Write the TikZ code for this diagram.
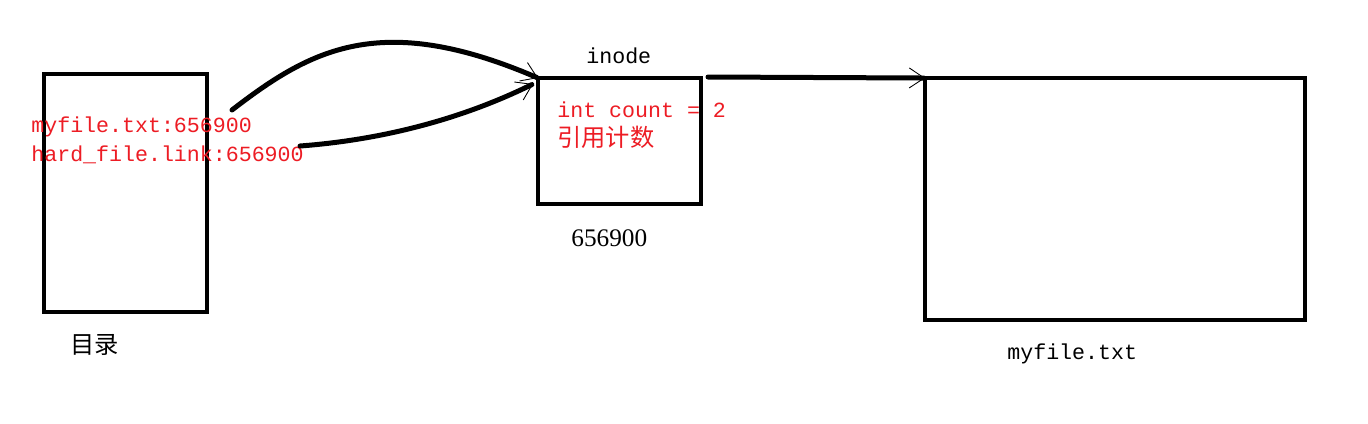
\documentclass[tikz,border=0pt]{standalone}
\usepackage{fontspec}
\setmonofont{Liberation Mono}
\newfontfamily\cjk{Noto Sans CJK SC}
\newfontfamily\serifnum{Liberation Serif}
\usetikzlibrary{arrows.meta}
\definecolor{paintred}{RGB}{237,28,36}
\begin{document}
\begin{tikzpicture}[x=0.02cm,y=-0.02cm,
  box/.style={draw=black,line width=0.09cm,minimum width=#1,inner sep=0pt,outer sep=0pt},
  wire/.style={line width=0.1cm,line cap=round,-{Straight Barb[line width=0.5pt,length=0.3cm,width=0.4cm]}},
  redtxt/.style={text=paintred,font=\fontsize{12.3}{14}\selectfont\ttfamily,anchor=west,inner sep=0pt},
  blacktxt/.style={text=black,font=\fontsize{12.3}{14}\selectfont\ttfamily,anchor=west,inner sep=0pt},
  cjktxt/.style={font=\fontsize{13.8}{16}\selectfont\cjk,anchor=west,inner sep=0pt}]
\useasboundingbox[fill=white] (0,0) rectangle (1368,423);
% boxes
\node[box=3.26cm,minimum height=4.76cm] (dir) at (125.5,193) {};
\node[box=3.26cm,minimum height=2.52cm] (inode) at (619.5,141) {};
\node[box=7.6cm,minimum height=4.84cm] (data) at (1115,199) {};
% texts
\node[redtxt] (t1) at (31,127) {myfile.txt:656900};
\node[redtxt] (t2) at (31,155) {hard\_file.link:656900};
\node[redtxt] (t3) at (557,110) {int count = 2};
\node[cjktxt,text=paintred] (t4) at (557,137) {引用计数};
\node[blacktxt] (t5) at (586,56) {inode};
\node[anchor=west,inner sep=0pt,font=\fontsize{14.4}{16}\selectfont\serifnum] (t6) at (571,238) {656900};
\node[blacktxt] (t7) at (1007,354) {myfile.txt};
\node[cjktxt] (t8) at (70,345) {目录};
% connectors
\coordinate (s1) at (232,110);
\coordinate (s2) at (300,146);
\coordinate (s3) at (708,77);
\coordinate (e2) at (533,84);
\draw[wire] (s1) .. controls (310,50) and (380,10) .. (inode.north west);
\draw[wire] (s2) .. controls (380,140) and (460,120) .. (e2);
\draw[wire] (s3) -- (data.north west);
\end{tikzpicture}
\end{document}
